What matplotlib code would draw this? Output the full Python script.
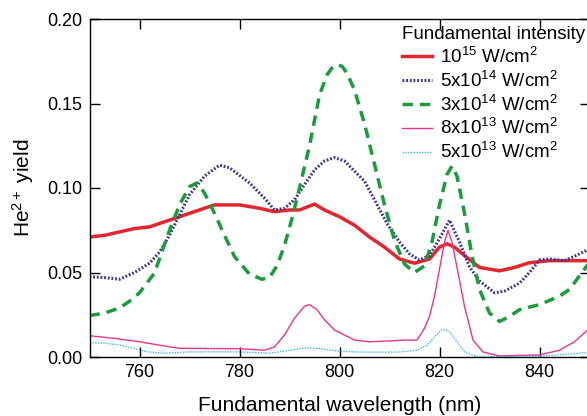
import matplotlib
matplotlib.use("Agg")
import matplotlib.pyplot as plt

plt.rcParams["font.family"] = ["Liberation Sans", "DejaVu Sans"]
plt.rcParams["mathtext.fontset"] = "custom"
plt.rcParams["mathtext.rm"] = "Liberation Sans"
plt.rcParams["mathtext.it"] = "Liberation Sans"

# 10^15 W/cm^2
x_1e15 = [750, 753, 756, 759, 762, 765, 768, 771, 775, 780, 784, 787, 790, 792,
          795, 797, 800, 803, 806, 809, 812, 815, 818, 820, 821.5, 823, 825, 828,
          832, 835, 838, 842, 846, 850]
y_1e15 = [0.071, 0.072, 0.074, 0.076, 0.077, 0.080, 0.083, 0.086, 0.090, 0.090,
          0.088, 0.086, 0.087, 0.087, 0.0905, 0.087, 0.083, 0.078, 0.071, 0.065,
          0.058, 0.0555, 0.058, 0.065, 0.067, 0.065, 0.060, 0.053, 0.051, 0.053,
          0.0558, 0.057, 0.057, 0.057]

# 5x10^14 W/cm^2
x_5e14 = [750, 753, 756, 759, 762, 764, 766, 768, 770, 773, 776, 778, 782, 785,
          787, 789, 791, 793, 795, 797, 799, 801, 803, 805, 807, 809.5, 812, 814,
          816, 818, 820, 822, 824, 826, 828, 831, 833, 836, 838, 840, 842, 845,
          848, 850]
y_5e14 = [0.0475, 0.047, 0.046, 0.050, 0.0555, 0.062, 0.072, 0.084, 0.096, 0.107,
          0.1135, 0.112, 0.103, 0.094, 0.087, 0.088, 0.093, 0.102, 0.1107, 0.116,
          0.118, 0.116, 0.110, 0.104, 0.093, 0.079, 0.068, 0.061, 0.0574, 0.060,
          0.070, 0.081, 0.068, 0.0534, 0.045, 0.038, 0.039, 0.0437, 0.050, 0.0574,
          0.058, 0.057, 0.061, 0.064]

# 3x10^14 W/cm^2
x_3e14 = [750, 753, 756, 758, 760, 763, 766, 768, 770, 771.5, 773, 775, 777, 779,
          782, 784.5, 786, 787.5, 789, 790.5, 792, 794, 796, 797.5, 798.5, 799.5,
          800.5, 801.5, 803, 805, 807, 809, 811, 813, 815, 817, 818.5, 820, 821.5,
          822.5, 823.5, 825, 826.5, 828, 830, 832, 834, 836, 840, 844, 846, 848, 850]
y_3e14 = [0.0245, 0.026, 0.029, 0.033, 0.038, 0.0497, 0.075, 0.090, 0.1008, 0.103,
          0.097, 0.085, 0.072, 0.0594, 0.049, 0.046, 0.047, 0.054, 0.066, 0.082,
          0.100, 0.125, 0.155, 0.167, 0.171, 0.173, 0.172, 0.168, 0.158, 0.138,
          0.114, 0.090, 0.069, 0.055, 0.050, 0.054, 0.068, 0.090, 0.108, 0.113,
          0.107, 0.085, 0.060, 0.040, 0.026, 0.021, 0.024, 0.028, 0.031, 0.036,
          0.040, 0.048, 0.056]

# 8x10^13 W/cm^2
x_8e13 = [750, 755, 760, 764, 768, 775, 780, 785, 787, 789, 791, 793, 794, 795.5,
          797, 799, 801, 803, 806, 810, 813, 815.5, 817, 818, 819, 820, 821, 821.7,
          822.5, 823.7, 825, 826.7, 828.7, 832, 836, 840, 844, 847, 850]
y_8e13 = [0.0126, 0.011, 0.009, 0.007, 0.0051, 0.005, 0.0049, 0.004, 0.006, 0.013,
          0.023, 0.030, 0.031, 0.028, 0.022, 0.016, 0.013, 0.010, 0.009, 0.0095,
          0.010, 0.010, 0.017, 0.024, 0.036, 0.052, 0.068, 0.075, 0.068, 0.050,
          0.030, 0.010, 0.003, 0.0006, 0.001, 0.0012, 0.004, 0.009, 0.017]

# 5x10^13 W/cm^2
x_5e13 = [750, 753, 756, 759, 761.5, 765, 770, 775, 780, 786, 790, 793.5, 796, 799,
          803, 808, 812, 815.5, 817.5, 819, 820.5, 822, 823.5, 825, 827.5, 835,
          841, 845, 850]
y_5e13 = [0.0085, 0.0082, 0.0071, 0.005, 0.0031, 0.0022, 0.003, 0.0031, 0.003,
          0.0022, 0.004, 0.0055, 0.005, 0.0037, 0.003, 0.0028, 0.003, 0.004, 0.007,
          0.012, 0.0164, 0.015, 0.009, 0.003, 0.0002, 0.0004, 0.0006, 0.0015, 0.0028]

labels = [r"10$^{15}$ W/cm$^2$", r"5x10$^{14}$ W/cm$^2$", r"3x10$^{14}$ W/cm$^2$",
          r"8x10$^{13}$ W/cm$^2$", r"5x10$^{13}$ W/cm$^2$"]

fig = plt.figure(figsize=(5.87, 4.16), dpi=100)
ax = fig.add_axes([89.5 / 587, 1 - 357 / 416, 500 / 587, 338 / 416])

ax.plot(x_1e15, y_1e15, color="#e3262d", lw=2.5, label=labels[0])
ax.plot(x_5e14, y_5e14, color="#3d3490", lw=2.2, ls=(0, (0.6, 0.6)), label=labels[1])
ax.plot(x_3e14, y_3e14, color="#1a9b3c", lw=2.5, ls=(0, (3, 2)), label=labels[2])
ax.plot(x_8e13, y_8e13, color="#e8378a", lw=1.0, label=labels[3])
ax.plot(x_5e13, y_5e13, color="#3bb9ea", lw=1.0, ls=(0, (1, 1)), label=labels[4])

ax.set_xlim(750, 850)
ax.set_ylim(0, 0.20)
ax.set_xticks([760, 780, 800, 820, 840])
ax.set_yticks([0.00, 0.05, 0.10, 0.15, 0.20])
ax.set_yticklabels(["0.00", "0.05", "0.10", "0.15", "0.20"])
ax.tick_params(direction="in", length=7, width=1, top=True, right=True,
               labelsize=13, pad=5)
for s in ax.spines.values():
    s.set_linewidth(1)

ax.set_xlabel("Fundamental wavelength (nm)", fontsize=15, labelpad=11)
ax.set_ylabel("He$^{2+}$ yield", fontsize=15, labelpad=8)

leg = ax.legend(title="Fundamental intensity", loc="upper left",
                bbox_to_anchor=(402 / 587, 1 - 26 / 416), bbox_transform=fig.transFigure,
                frameon=False, fontsize=13.5, title_fontsize=13.5, borderpad=0,
                borderaxespad=0, handlelength=1.6, handletextpad=0.4,
                labelspacing=0.2, alignment="left")

fig.savefig("out.png", dpi=100)
